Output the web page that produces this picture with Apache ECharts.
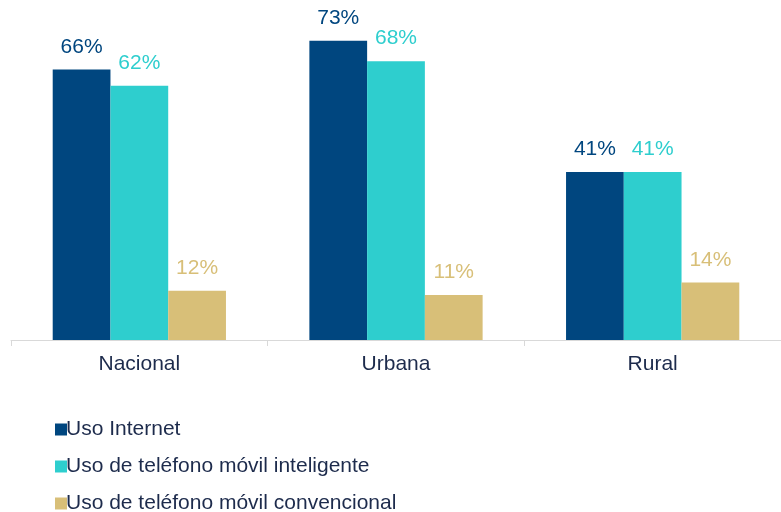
<!DOCTYPE html>
<html>
<head>
<meta charset="utf-8">
<script src="https://cdn.jsdelivr.net/npm/echarts@6/dist/echarts.min.js"></script>
<style>html,body{margin:0;padding:0;background:#fff}#c{width:781px;height:512px}</style>
</head>
<body>
<div id="c"></div>
<script>
var categories = ['Nacional', 'Urbana', 'Rural'];
var seriesNames = ['Uso Internet', 'Uso de teléfono móvil inteligente', 'Uso de teléfono móvil convencional'];
var usoInternet = [66, 73, 41];
var usoInteligente = [62, 68, 41];
var usoConvencional = [12, 11, 14];
var colors = ['#00467f', '#2ecece', '#d8bf78'];
var textColor = '#1d2b4c';
var font = 'Liberation Sans, Arial, sans-serif';

var chart = echarts.init(document.getElementById('c'));
function mk(name, data, color) {
  return {
    name: name, type: 'bar', data: data,
    barGap: '0%', barCategoryGap: '32.5%',
    itemStyle: { color: color },
    label: { show: true, position: 'top', distance: 12, formatter: '{c}%',
      color: color, fontSize: 21, fontFamily: font },
    emphasis: { disabled: true }
  };
}
chart.setOption({
  animation: false,
  grid: { left: 11, right: 0, top: 12, bottom: 172, containLabel: false },
  legend: {
    orient: 'vertical', left: 50, top: 414, height: 110, itemGap: 16,
    itemWidth: 12, itemHeight: 12, icon: 'rect',
    textStyle: { color: textColor, fontSize: 21, fontFamily: font, padding: [0, 0, 0, -6] },
    data: seriesNames
  },
  xAxis: {
    type: 'category', data: categories,
    axisLine: { lineStyle: { color: '#d9d9d9', width: 1 } },
    axisTick: { show: true, length: 6, lineStyle: { color: '#d9d9d9' } },
    axisLabel: { color: textColor, fontSize: 21, fontFamily: font, margin: 14 }
  },
  yAxis: { type: 'value', min: 0, max: 80, show: false, splitLine: { show: false } },
  series: [
    mk(seriesNames[0], usoInternet, colors[0]),
    mk(seriesNames[1], usoInteligente, colors[1]),
    mk(seriesNames[2], usoConvencional, colors[2])
  ]
});
</script>
</body>
</html>
